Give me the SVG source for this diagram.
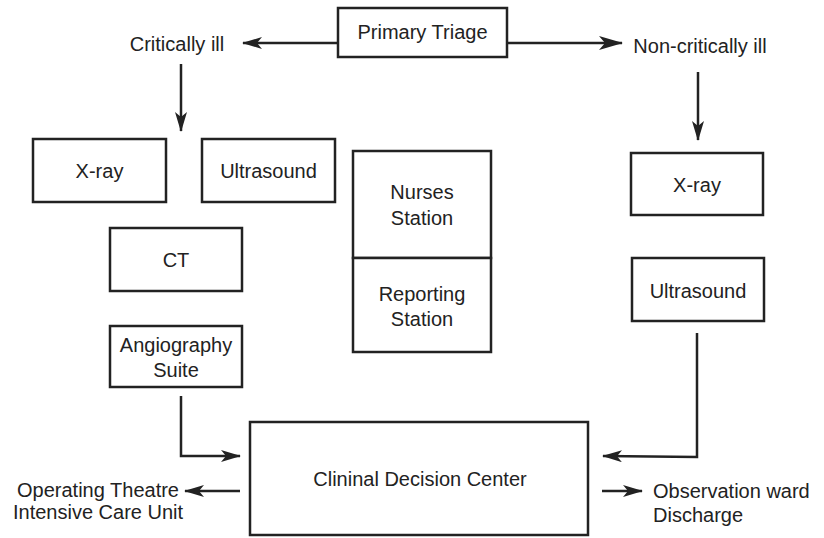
<svg xmlns="http://www.w3.org/2000/svg" width="824" height="538" viewBox="0 0 824 538">
  <defs>
    <style>
      .box { fill: #fff; stroke: #222; stroke-width: 2.5; }
      .lbl { font-family: "Liberation Sans", Arial, sans-serif; font-size: 20px; fill: #222; }
      .mid { text-anchor: middle; }
      .wire { fill: none; stroke: #222; stroke-width: 2.5; }
    </style>
    <marker id="arrow" viewBox="0 0 20 12" refX="19" refY="6" markerWidth="20" markerHeight="12" markerUnits="userSpaceOnUse" orient="auto">
      <path d="M0,0 L20,6 L0,12 L5,6 Z" fill="#222"/>
    </marker>
    <marker id="arrowBig" viewBox="0 0 24 14" refX="23" refY="7" markerWidth="24" markerHeight="14" markerUnits="userSpaceOnUse" orient="auto">
      <path d="M0,0 L24,7 L0,14 L6,7 Z" fill="#222"/>
    </marker>
  </defs>
  <rect width="824" height="538" fill="#fff"/>

  <g id="connectors">
    <line class="wire" x1="338" y1="43" x2="243" y2="43" marker-end="url(#arrow)"/>
    <line class="wire" x1="507" y1="43" x2="622" y2="43" marker-end="url(#arrowBig)"/>
    <line class="wire" x1="181" y1="64" x2="181" y2="131" marker-end="url(#arrow)"/>
    <line class="wire" x1="698" y1="72" x2="698" y2="140" marker-end="url(#arrow)"/>
    <polyline class="wire" points="181,396 181,456 240,456" marker-end="url(#arrow)"/>
    <polyline class="wire" points="697,333 697,457 603,456" marker-end="url(#arrow)"/>
    <line class="wire" x1="240" y1="491" x2="185" y2="491" marker-end="url(#arrow)"/>
    <line class="wire" x1="602" y1="491" x2="642" y2="491" marker-end="url(#arrow)"/>
  </g>

  <g id="primary-triage">
    <rect class="box" x="338" y="8" width="169" height="49"/>
    <text class="lbl mid" x="422.5" y="39">Primary Triage</text>
  </g>
  <g id="critically-ill">
    <text class="lbl mid" x="177" y="51">Critically ill</text>
  </g>
  <g id="non-critically-ill">
    <text class="lbl mid" x="700" y="53">Non-critically ill</text>
  </g>

  <g id="xray-critical">
    <rect class="box" x="33" y="139" width="133" height="63"/>
    <text class="lbl mid" x="99.5" y="178">X-ray</text>
  </g>
  <g id="ultrasound-critical">
    <rect class="box" x="202" y="139" width="133" height="63"/>
    <text class="lbl mid" x="268.5" y="178">Ultrasound</text>
  </g>
  <g id="ct">
    <rect class="box" x="110" y="228" width="132" height="63"/>
    <text class="lbl mid" x="176" y="267">CT</text>
  </g>
  <g id="angiography">
    <rect class="box" x="110" y="326" width="132" height="61"/>
    <text class="lbl mid" x="176" y="352">Angiography</text>
    <text class="lbl mid" x="176" y="377">Suite</text>
  </g>

  <g id="nurses-station">
    <rect class="box" x="353" y="151" width="138" height="107"/>
    <text class="lbl mid" x="422" y="199">Nurses</text>
    <text class="lbl mid" x="422" y="225">Station</text>
  </g>
  <g id="reporting-station">
    <rect class="box" x="353" y="258" width="138" height="94"/>
    <text class="lbl mid" x="422" y="301">Reporting</text>
    <text class="lbl mid" x="422" y="326">Station</text>
  </g>

  <g id="xray-noncritical">
    <rect class="box" x="631" y="153" width="132" height="62"/>
    <text class="lbl mid" x="697" y="192">X-ray</text>
  </g>
  <g id="ultrasound-noncritical">
    <rect class="box" x="632" y="258" width="132" height="63"/>
    <text class="lbl mid" x="698" y="298">Ultrasound</text>
  </g>

  <g id="decision-center">
    <rect class="box" x="250" y="422" width="338" height="113"/>
    <text class="lbl mid" x="420" y="486">Clininal Decision Center</text>
  </g>

  <g id="operating-icu">
    <text class="lbl mid" x="98" y="497">Operating Theatre</text>
    <text class="lbl mid" x="98" y="519">Intensive Care Unit</text>
  </g>
  <g id="observation-discharge">
    <text class="lbl" x="653" y="498">Observation ward</text>
    <text class="lbl" x="653" y="522">Discharge</text>
  </g>
</svg>
